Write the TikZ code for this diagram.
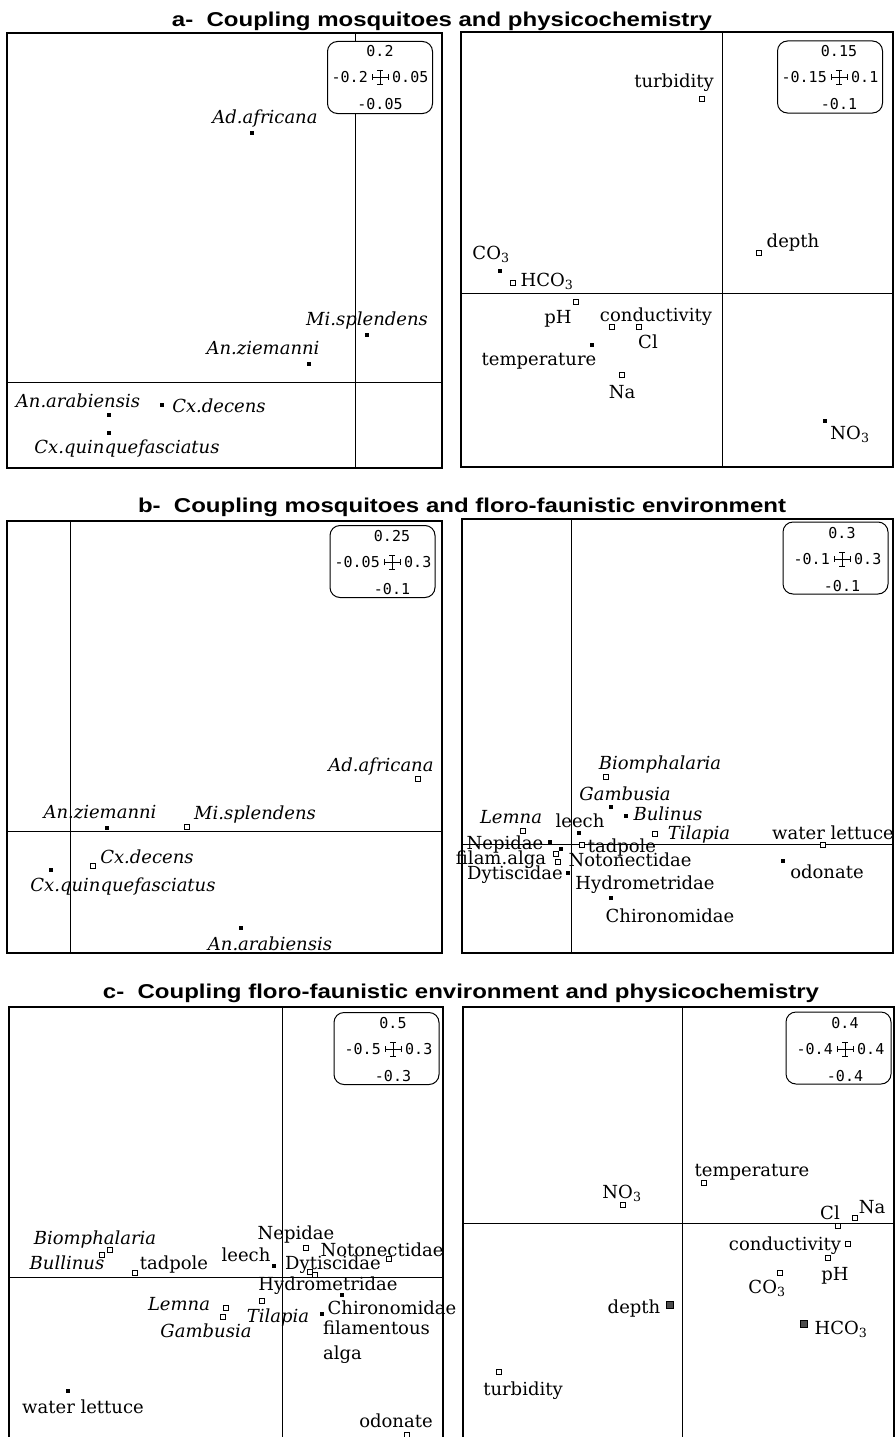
\documentclass[tikz,border=0pt]{standalone}
\usepackage{fontspec}
\setmainfont{DejaVu Serif}
\setmonofont{DejaVu Sans Mono}
\newfontfamily\titlefont[FakeStretch=1.2]{Liberation Sans}
\usetikzlibrary{positioning}

\begin{document}
\begin{tikzpicture}[x=1pt, y=-1pt,
    frame/.style={line width=1.3pt},
    axis/.style={line width=1pt},
    fsq/.style={rectangle, fill=black, minimum size=4.5pt, inner sep=0pt},
    hsq/.style={rectangle, draw=black, fill=white, line width=1.2pt, minimum size=5pt, inner sep=0pt},
    bsq/.style={rectangle, draw=black, fill=black!70, line width=1.5pt, minimum size=7pt, inner sep=0pt},
    lbl/.style={anchor=base, inner sep=0pt, font=\fontsize{18}{25}\selectfont},
    ilbl/.style={lbl, font=\fontsize{18}{25}\selectfont\itshape},
    legbox/.style={draw, fill=white, rounded corners=10pt, line width=1pt,
                   minimum width=105pt, minimum height=72pt},
    legnum/.style={inner sep=0pt, font=\ttfamily\fontsize{15}{16}\selectfont},
    title/.style={anchor=base, inner sep=0pt, font=\titlefont\bfseries\fontsize{20}{22}\selectfont},
    legcross/.pic={\draw[line width=0.9pt] (-8,0) -- (8,0) (-8,-3) -- (-8,3) (8,-3) -- (8,3)
                   (0,-7) -- (0,7) (-3,-7) -- (3,-7) (-3,7) -- (3,7);}]

    \useasboundingbox (0,0) rectangle (895,1437);
    \clip (0,0) rectangle (895,1437);

    % Titles
    \node[title] (ta) at (442,27) {a-\ \ Coupling mosquitoes and physicochemistry};
    \node[title] (tb) at (462,512) {b-\ \ Coupling mosquitoes and floro-faunistic environment};
    \node[title] (tc) at (461,998) {c-\ \ Coupling floro-faunistic environment and physicochemistry};

    % a - mosquitoes
    \draw[frame] (7,33) rectangle (442,468);
    \draw[axis] (355,33) -- (355,468);
    \draw[axis] (7,382) -- (442,382);
    \node[legbox] (aLbox) at (380,77.5) {};
    \coordinate (aLx) at (380,77);
    \pic at (aLx) {legcross};
    \node[legnum, above=20pt of aLx] (aLtop) {0.2};
    \node[legnum, left=12pt of aLx] (aLlft) {-0.2};
    \node[legnum, right=12pt of aLx] (aLrgt) {0.05};
    \node[legnum, below=21pt of aLx] (aLbot) {-0.05};

    \node[fsq] (aLad) at (252,133) {};
    \node[ilbl] (aLadt) at (265,123) {Ad.africana};
    \node[fsq] (aLmi) at (367,335) {};
    \node[ilbl] (aLmit) at (367,325) {Mi.splendens};
    \node[fsq] (aLaz) at (309,364) {};
    \node[ilbl] (aLazt) at (263,354) {An.ziemanni};
    \node[fsq] (aLaa) at (109,415) {};
    \node[ilbl] (aLaat) at (78,407) {An.arabiensis};
    \node[fsq] (aLcd) at (162,405) {};
    \node[ilbl] (aLcdt) at (219,412) {Cx.decens};
    \node[fsq] (aLcq) at (109,433) {};
    \node[ilbl] (aLcqt) at (127,453) {Cx.quinquefasciatus};

    % a - physicochemistry
    \draw[frame] (461,32) rectangle (893,467);
    \draw[axis] (722,32) -- (722,467);
    \draw[axis] (461,293) -- (893,293);
    \node[legbox] (aRbox) at (830,77) {};
    \coordinate (aRx) at (839,77);
    \pic at (aRx) {legcross};
    \node[legnum, above=20pt of aRx] (aRtop) {0.15};
    \node[legnum, left=12pt of aRx] (aRlft) {-0.15};
    \node[legnum, right=12pt of aRx] (aRrgt) {0.1};
    \node[legnum, below=21pt of aRx] (aRbot) {-0.1};

    \node[hsq] (aRtu) at (702,99) {};
    \node[lbl] (aRtut) at (674,88) {turbidity};
    \node[hsq] (aRde) at (759,253) {};
    \node[lbl] (aRdet) at (793,247) {depth};
    \node[fsq] (aRco) at (500,271) {};
    \node[lbl] (aRcot) at (491,259) {CO\textsubscript{3}};
    \node[hsq] (aRhc) at (513,283) {};
    \node[lbl] (aRhct) at (547,286) {HCO\textsubscript{3}};
    \node[hsq] (aRph) at (576,302) {};
    \node[lbl] (aRpht) at (558,323) {pH};
    \node[hsq] (aRcn) at (612,327) {};
    \node[lbl] (aRcnt) at (656,321) {conductivity};
    \node[hsq] (aRcl) at (639,327) {};
    \node[lbl] (aRclt) at (648,348) {Cl};
    \node[fsq] (aRte) at (592,345) {};
    \node[lbl] (aRtet) at (539,365) {temperature};
    \node[hsq] (aRna) at (622,375) {};
    \node[lbl] (aRnat) at (622,398) {Na};
    \node[fsq] (aRno) at (825,421) {};
    \node[lbl] (aRnot) at (850,439) {NO\textsubscript{3}};

    % b - mosquitoes
    \draw[frame] (7,521) rectangle (442,953);
    \draw[axis] (70,521) -- (70,953);
    \draw[axis] (7,831) -- (442,831);
    \node[legbox] (bLbox) at (382.5,561.5) {};
    \coordinate (bLx) at (392,562);
    \pic at (bLx) {legcross};
    \node[legnum, above=20pt of bLx] (bLtop) {0.25};
    \node[legnum, left=12pt of bLx] (bLlft) {-0.05};
    \node[legnum, right=12pt of bLx] (bLrgt) {0.3};
    \node[legnum, below=21pt of bLx] (bLbot) {-0.1};

    \node[hsq] (bLad) at (418,779) {};
    \node[ilbl] (bLadt) at (381,771) {Ad.africana};
    \node[fsq] (bLaz) at (107,828) {};
    \node[ilbl] (bLazt) at (100,818) {An.ziemanni};
    \node[hsq] (bLmi) at (187,827) {};
    \node[ilbl] (bLmit) at (255,819) {Mi.splendens};
    \node[hsq] (bLcd) at (93,866) {};
    \node[ilbl] (bLcdt) at (147,863) {Cx.decens};
    \node[fsq] (bLcq) at (51,870) {};
    \node[ilbl] (bLcqt) at (123,891) {Cx.quinquefasciatus};
    \node[fsq] (bLaa) at (241,928) {};
    \node[ilbl] (bLaat) at (270,950) {An.arabiensis};

    % b - floro-faunistic
    \draw[frame] (462,519) rectangle (893,953);
    \draw[axis] (571,519) -- (571,953);
    \draw[axis] (462,844) -- (893,844);
    \node[legbox] (bRbox) at (835.5,558) {};
    \coordinate (bRx) at (842,559);
    \pic at (bRx) {legcross};
    \node[legnum, above=20pt of bRx] (bRtop) {0.3};
    \node[legnum, left=12pt of bRx] (bRlft) {-0.1};
    \node[legnum, right=12pt of bRx] (bRrgt) {0.3};
    \node[legnum, below=21pt of bRx] (bRbot) {-0.1};

    \node[hsq] (bRbi) at (606,777) {};
    \node[ilbl] (bRbit) at (660,769) {Biomphalaria};
    \node[fsq] (bRga) at (611,807) {};
    \node[ilbl] (bRgat) at (625,800) {Gambusia};
    \node[fsq] (bRbu) at (626,816) {};
    \node[ilbl] (bRbut) at (668,820) {Bulinus};
    \node[hsq] (bRle) at (523,831) {};
    \node[ilbl] (bRlet) at (511,823) {Lemna};
    \node[fsq] (bRlc) at (579,833) {};
    \node[lbl] (bRlct) at (580,827) {leech};
    \node[hsq] (bRti) at (655,834) {};
    \node[ilbl] (bRtit) at (699,839) {Tilapia};
    \node[hsq] (bRwl) at (823,845) {};
    \node[lbl] (bRwlt) at (833,839) {water lettuce};
    \node[fsq] (bRne) at (550,842) {};
    \node[lbl] (bRnet) at (505,849) {Nepidae};
    \node[hsq] (bRtp) at (582,845) {};
    \node[lbl] (bRtpt) at (622,852) {tadpole};
    \node[fsq] (bRhy) at (561,849) {};
    \node[lbl] (bRhyt) at (645,889) {Hydrometridae};
    \node[hsq] (bRfa) at (556,854) {};
    \node[lbl] (bRfat) at (501,864) {filam.alga};
    \node[hsq] (bRno) at (558,862) {};
    \node[lbl] (bRnot) at (630,866) {Notonectidae};
    \node[fsq] (bRdy) at (568,873) {};
    \node[lbl] (bRdyt) at (515,879) {Dytiscidae};
    \node[fsq] (bRch) at (611,898) {};
    \node[lbl] (bRcht) at (670,922) {Chironomidae};
    \node[fsq] (bRod) at (783,861) {};
    \node[lbl] (bRodt) at (827,878) {odonate};

    % c - floro-faunistic
    \draw[frame] (9,1007) rectangle (443,1450);
    \draw[axis] (282,1007) -- (282,1450);
    \draw[axis] (9,1277) -- (443,1277);
    \node[legbox] (cLbox) at (386.5,1048.5) {};
    \coordinate (cLx) at (393,1049);
    \pic at (cLx) {legcross};
    \node[legnum, above=20pt of cLx] (cLtop) {0.5};
    \node[legnum, left=12pt of cLx] (cLlft) {-0.5};
    \node[legnum, right=12pt of cLx] (cLrgt) {0.3};
    \node[legnum, below=21pt of cLx] (cLbot) {-0.3};

    \node[hsq] (cLbi) at (110,1250) {};
    \node[ilbl] (cLbit) at (95,1244) {Biomphalaria};
    \node[hsq] (cLbu) at (102,1255) {};
    \node[ilbl] (cLbut) at (67,1269) {Bullinus};
    \node[hsq] (cLtp) at (135,1273) {};
    \node[lbl] (cLtpt) at (174,1269) {tadpole};
    \node[fsq] (cLlc) at (274,1266) {};
    \node[lbl] (cLlct) at (246,1261) {leech};
    \node[hsq] (cLne) at (306,1248) {};
    \node[lbl] (cLnet) at (296,1239) {Nepidae};
    \node[hsq] (cLno) at (389,1259) {};
    \node[lbl] (cLnot) at (382,1256) {Notonectidae};
    \node[hsq] (cLdy) at (310,1272) {};
    \node[lbl] (cLdyt) at (333,1269) {Dytiscidae};
    \node[hsq] (cLhy) at (315,1275) {};
    \node[lbl] (cLhyt) at (328,1290) {Hydrometridae};
    \node[hsq] (cLle) at (226,1308) {};
    \node[ilbl] (cLlet) at (179,1310) {Lemna};
    \node[hsq] (cLga) at (223,1317) {};
    \node[ilbl] (cLgat) at (206,1337) {Gambusia};
    \node[hsq] (cLti) at (262,1301) {};
    \node[ilbl] (cLtit) at (278,1322) {Tilapia};
    \node[fsq] (cLch) at (342,1295) {};
    \node[lbl] (cLcht) at (392,1314) {Chironomidae};
    \node[fsq] (cLfa) at (322,1314) {};
    \node[lbl, anchor=base west, align=left] (cLfat) at (323,1359) {filamentous\\alga};
    \node[fsq] (cLwl) at (68,1391) {};
    \node[lbl] (cLwlt) at (83,1413) {water lettuce};
    \node[hsq] (cLod) at (407,1435) {};
    \node[lbl] (cLodt) at (396,1427) {odonate};

    % c - physicochemistry
    \draw[frame] (463,1007) rectangle (894,1450);
    \draw[axis] (682,1007) -- (682,1450);
    \draw[axis] (463,1223) -- (894,1223);
    \node[legbox] (cRbox) at (838.5,1048) {};
    \coordinate (cRx) at (845,1049);
    \pic at (cRx) {legcross};
    \node[legnum, above=20pt of cRx] (cRtop) {0.4};
    \node[legnum, left=12pt of cRx] (cRlft) {-0.4};
    \node[legnum, right=12pt of cRx] (cRrgt) {0.4};
    \node[legnum, below=21pt of cRx] (cRbot) {-0.4};

    \node[hsq] (cRte) at (704,1183) {};
    \node[lbl] (cRtet) at (752,1176) {temperature};
    \node[hsq] (cRno) at (623,1205) {};
    \node[lbl] (cRnot) at (622,1198) {NO\textsubscript{3}};
    \node[hsq] (cRcl) at (838,1226) {};
    \node[lbl] (cRclt) at (830,1219) {Cl};
    \node[hsq] (cRna) at (855,1218) {};
    \node[lbl] (cRnat) at (872,1213) {Na};
    \node[hsq] (cRcn) at (848,1244) {};
    \node[lbl] (cRcnt) at (785,1250) {conductivity};
    \node[hsq] (cRph) at (828,1258) {};
    \node[lbl] (cRpht) at (835,1280) {pH};
    \node[hsq] (cRco) at (780,1273) {};
    \node[lbl] (cRcot) at (767,1293) {CO\textsubscript{3}};
    \node[bsq] (cRde) at (670,1305) {};
    \node[lbl] (cRdet) at (634,1313) {depth};
    \node[bsq] (cRhc) at (804,1324) {};
    \node[lbl] (cRhct) at (841,1334) {HCO\textsubscript{3}};
    \node[hsq] (cRtu) at (499,1372) {};
    \node[lbl] (cRtut) at (523,1395) {turbidity};
\end{tikzpicture}
\end{document}
